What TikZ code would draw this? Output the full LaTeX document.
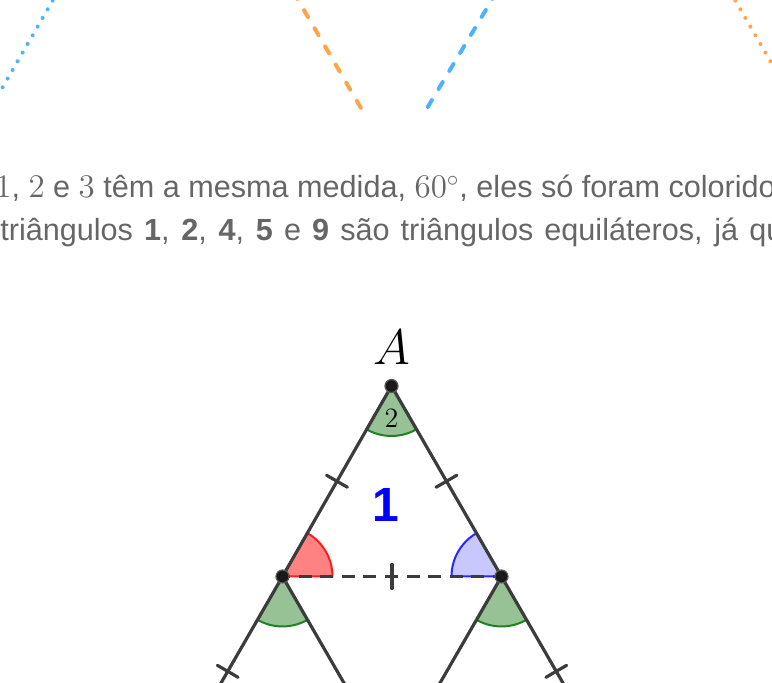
\RequirePackage{fix-cm}
\documentclass[tikz,border=0pt]{standalone}
\usepackage[no-math]{fontspec}
\setsansfont{Liberation Sans}
\usetikzlibrary{calc}

\definecolor{cinzatexto}{RGB}{102,102,102}
\definecolor{cinzalinha}{RGB}{60,60,60}
\definecolor{verdeF}{RGB}{150,194,150}
\definecolor{verdeD}{RGB}{30,130,30}
\definecolor{vermF}{RGB}{255,130,130}
\definecolor{vermD}{RGB}{255,30,30}
\definecolor{azulF}{RGB}{200,200,255}
\definecolor{azulD}{RGB}{40,40,255}
\definecolor{celeste}{RGB}{77,178,255}
\definecolor{laranja}{RGB}{255,163,77}

\newcommand{\mat}[1]{{\fontsize{16.5}{20}\selectfont$#1$}}

\begin{document}
\begin{tikzpicture}[line cap=round,line join=round,x=0.5pt,y=0.5pt,
  lado/.style={draw=cinzalinha,line width=1.6pt},
  traco/.style={draw=cinzalinha,solid,line width=1.6pt,inner sep=0pt,minimum width=0pt,minimum height=12pt,sloped},
  setor/.style={line width=1pt},
  ponto/.style={fill=black!90,draw=black!65,line width=0.6pt},
  texto/.style={anchor=base west,inner sep=0pt,text=cinzatexto,font=\sffamily\fontsize{15.3}{18}\selectfont}]
  \clip (0,0) rectangle (772,683);
  \draw[celeste,line width=2pt,dash pattern=on 0pt off 5pt] (57.6,691) -- (-5,582.5);
  \draw[laranja,line width=2pt,dash pattern=on 0pt off 5pt] (730.4,691) -- (780,605);
  \draw[laranja,line width=2pt,dash pattern=on 4pt off 6.5pt] (293.4,691) -- (365,568);
  \draw[celeste,line width=2pt,dash pattern=on 4pt off 6.5pt] (496.6,691) -- (423,568);

  \node[texto] (linha1) at (103,485) {\llap{\mat{1}, \mat{2} e \mat{3} }têm a mesma medida, \mat{60^{\circ}}, eles só foram coloridos};
  \node[texto] (linha2) at (0,442) {\makebox[400pt][s]{triângulos \textbf{1}, \textbf{2}, \textbf{4}, \textbf{5} e \textbf{9} são triângulos equiláteros, já que}};

  \coordinate (A) at (391.5,297);
  \coordinate (B) at (282.5,106.5);
  \coordinate (C) at (501.5,106.5);
  \coordinate (D) at ($(B)+(-109.5,-189.7)$);
  \coordinate (E) at ($(B)+(109.5,-189.7)$);
  \coordinate (F) at ($(C)+(109.5,-189.7)$);

  \filldraw[setor,fill=verdeF,draw=verdeD] (A) -- ++(240:50) arc[start angle=240,end angle=300,radius=50] -- cycle;
  \filldraw[setor,fill=verdeF,draw=verdeD] (B) -- ++(240:50) arc[start angle=240,end angle=300,radius=50] -- cycle;
  \filldraw[setor,fill=verdeF,draw=verdeD] (C) -- ++(240:50) arc[start angle=240,end angle=300,radius=50] -- cycle;
  \filldraw[setor,fill=vermF,draw=vermD] (B) -- ++(0:50) arc[start angle=0,end angle=60,radius=50] -- cycle;
  \filldraw[setor,fill=azulF,draw=azulD] (C) -- ++(120:50) arc[start angle=120,end angle=180,radius=50] -- cycle;

  \draw[lado] (B) -- (A) node[midway,traco] (mAB) {} -- (C) node[midway,traco] (mAC) {};
  \draw[lado] (D) -- (B) node[midway,traco] (mBD) {} -- (E) -- (C) -- (F) node[midway,traco] (mCF) {};
  \draw[lado,line cap=butt,dash pattern=on 6.5pt off 4.3pt,dash phase=2.75pt] (B) -- (C) node[midway,traco] (mBC) {};
  \foreach \p in {A,B,C}
    \filldraw[ponto] (\p) circle (6.5);

  \node[anchor=base,font=\fontsize{25}{30}\selectfont] (rotA) at (391.5,318) {$A$};
  \node[font=\fontsize{14}{16}\selectfont] (ang2) at (391.5,265) {$2$};
  \node[anchor=base,text=blue,font=\sffamily\bfseries\fontsize{24}{28}\selectfont] (tri1) at (386,161) {1};
\end{tikzpicture}
\end{document}
